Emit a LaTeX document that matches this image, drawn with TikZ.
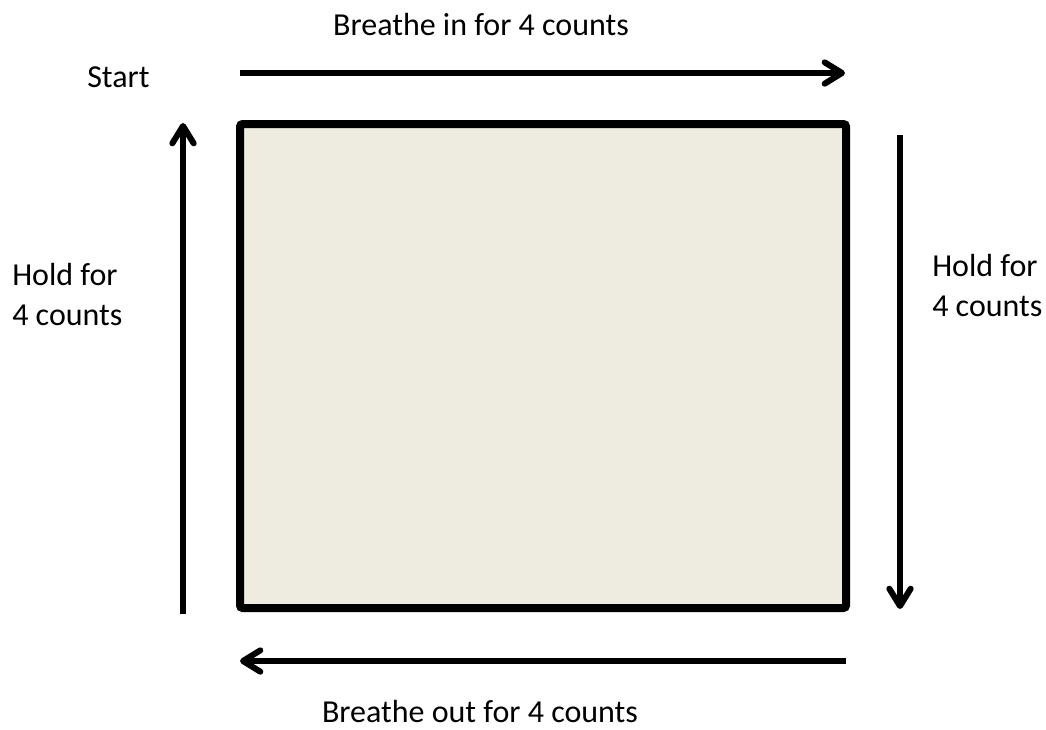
\documentclass[tikz,border=0pt]{standalone}
\usepackage{fontspec}
\setmainfont{Carlito}
\usetikzlibrary{arrows.meta}
\definecolor{boxtan}{RGB}{238,236,225}

\tikzset{
  flow/.style={line width=4.5pt, -{Straight Barb[length=13pt,width=16pt,line cap=round,line join=round]}},
  caption/.style={font=\fontsize{24}{30}\selectfont, inner sep=0pt},
}

\begin{document}
\begin{tikzpicture}[x=0.75pt,y=-0.75pt]
\useasboundingbox (0,0) rectangle (1046,729);

% 1. SQUARE
\draw[line width=6pt, rounded corners=2pt, fill=boxtan] (240,124) rectangle (846,608);

% 2. ARROW ENDS
\coordinate (topL) at (240,73);
\coordinate (topR) at (845,73);
\coordinate (rightT) at (900,135);
\coordinate (rightB) at (900,609);
\coordinate (botR) at (846,661);
\coordinate (botL) at (240,661);
\coordinate (leftB) at (183,614);
\coordinate (leftT) at (183,123);

% 3. ARROWS
\draw[flow] (topL) -- (topR);
\draw[flow] (rightT) -- (rightB);
\draw[flow] (botR) -- (botL);
\draw[flow] (leftB) -- (leftT);

% 4. LABELS
\node[caption, anchor=base] (inlabel) at (481,35) {Breathe in for 4 counts};
\node[caption, anchor=base west] (startlabel) at (87,87) {Start};
\node[caption, anchor=south west, align=left] (holdleft) at (12,326) {Hold for\\4 counts};
\node[caption, anchor=south west, align=left] (holdright) at (932,317) {Hold for\\4 counts};
\node[caption, anchor=base] (outlabel) at (480,722) {Breathe out for 4 counts};
\end{tikzpicture}
\end{document}
